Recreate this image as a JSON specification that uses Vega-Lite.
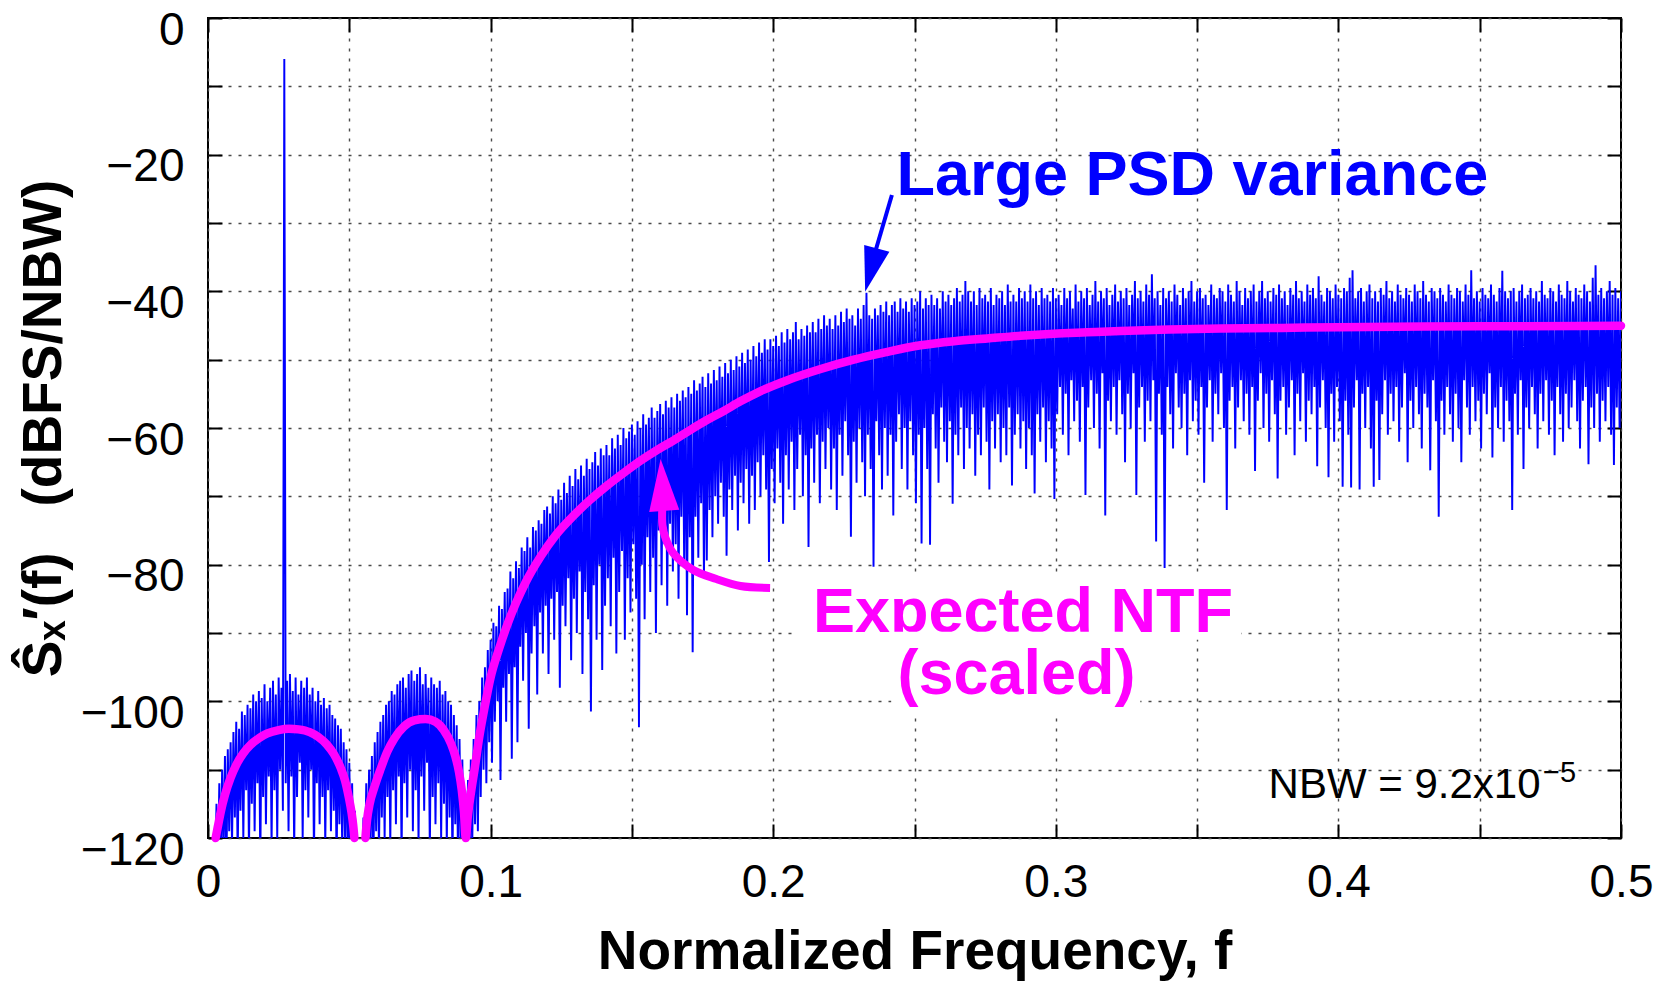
{
"$schema": "https://vega.github.io/schema/vega-lite/v6.json",
"width": 1413,
"height": 820,
"autosize": {"type": "none"},
"padding": {"left": 208, "top": 18, "right": 50, "bottom": 145},
"background": "white",
"config": {
"view": {"stroke": "black", "strokeWidth": 2},
"axis": {"domain": false, "tickColor": "black", "tickWidth": 2, "tickSize": -14, "labelFont": "Liberation Sans", "labelFontSize": 46, "labelColor": "black", "labelOverlap": false, "labelFlush": false, "titleFont": "Liberation Sans", "titleFontSize": 55, "titleFontWeight": "bold", "titleColor": "black", "gridColor": "#4a4a4a", "gridDash": [3, 7], "gridWidth": 1.4, "gridOpacity": 1}
},
"datasets": {
"psd": [
{"f":0.0005,"p":-131},{"f":0.001,"p":-124},{"f":0.0015,"p":-129},{"f":0.002,"p":-121},{"f":0.0025,"p":-127},{"f":0.003,"p":-115},{"f":0.0035,"p":-126},{"f":0.004,"p":-112},{"f":0.0045,"p":-124},{"f":0.005,"p":-110},
{"f":0.0055,"p":-122},{"f":0.006,"p":-108},{"f":0.0065,"p":-125},{"f":0.007,"p":-107},{"f":0.0075,"p":-119},{"f":0.008,"p":-106},{"f":0.0085,"p":-121},{"f":0.009,"p":-104.5},{"f":0.0095,"p":-117},{"f":0.01,"p":-103},
{"f":0.0105,"p":-123},{"f":0.011,"p":-104},{"f":0.0115,"p":-116},{"f":0.012,"p":-101.5},{"f":0.0125,"p":-120},{"f":0.013,"p":-102},{"f":0.0135,"p":-113},{"f":0.014,"p":-100.5},{"f":0.0145,"p":-122},{"f":0.015,"p":-101},
{"f":0.0155,"p":-115},{"f":0.016,"p":-99},{"f":0.0165,"p":-119},{"f":0.017,"p":-100},{"f":0.0175,"p":-112},{"f":0.018,"p":-98.5},{"f":0.0185,"p":-124},{"f":0.019,"p":-99.5},{"f":0.0195,"p":-114},{"f":0.02,"p":-97.5},
{"f":0.0205,"p":-118},{"f":0.021,"p":-100},{"f":0.0215,"p":-111},{"f":0.022,"p":-98},{"f":0.0225,"p":-121},{"f":0.023,"p":-97},{"f":0.0235,"p":-113},{"f":0.024,"p":-99},{"f":0.0245,"p":-120},{"f":0.025,"p":-96.5},
{"f":0.0255,"p":-110},{"f":0.026,"p":-98},{"f":0.0265,"p":-116},{"f":0.027,"p":-6},{"f":0.0275,"p":-112},{"f":0.028,"p":-97},{"f":0.0285,"p":-119},{"f":0.029,"p":-96},{"f":0.0295,"p":-111},{"f":0.03,"p":-98.5},
{"f":0.0305,"p":-122},{"f":0.031,"p":-96.5},{"f":0.0315,"p":-114},{"f":0.032,"p":-99},{"f":0.0325,"p":-109},{"f":0.033,"p":-97},{"f":0.0335,"p":-120},{"f":0.034,"p":-98},{"f":0.0345,"p":-113},{"f":0.035,"p":-96.5},
{"f":0.0355,"p":-117},{"f":0.036,"p":-99},{"f":0.0365,"p":-110},{"f":0.037,"p":-98},{"f":0.0375,"p":-123},{"f":0.038,"p":-100},{"f":0.0385,"p":-112},{"f":0.039,"p":-98.5},{"f":0.0395,"p":-118},{"f":0.04,"p":-100.5},
{"f":0.0405,"p":-114},{"f":0.041,"p":-99.5},{"f":0.0415,"p":-121},{"f":0.042,"p":-101},{"f":0.0425,"p":-113},{"f":0.043,"p":-100.5},{"f":0.0435,"p":-119},{"f":0.044,"p":-102},{"f":0.0445,"p":-116},{"f":0.045,"p":-102.5},
{"f":0.0455,"p":-124},{"f":0.046,"p":-103.5},{"f":0.0465,"p":-118},{"f":0.047,"p":-104},{"f":0.0475,"p":-122},{"f":0.048,"p":-106},{"f":0.0485,"p":-120},{"f":0.049,"p":-107},{"f":0.0495,"p":-126},{"f":0.05,"p":-109},
{"f":0.0505,"p":-123},{"f":0.051,"p":-112},{"f":0.0515,"p":-127},{"f":0.052,"p":-116},{"f":0.0525,"p":-129},{"f":0.053,"p":-121},{"f":0.0535,"p":-132},{"f":0.054,"p":-123},{"f":0.0545,"p":-128},{"f":0.055,"p":-117},
{"f":0.0555,"p":-126},{"f":0.056,"p":-112},{"f":0.0565,"p":-124},{"f":0.057,"p":-110},{"f":0.0575,"p":-121},{"f":0.058,"p":-108},{"f":0.0585,"p":-125},{"f":0.059,"p":-106},{"f":0.0595,"p":-119},{"f":0.06,"p":-104.5},
{"f":0.0605,"p":-122},{"f":0.061,"p":-103},{"f":0.0615,"p":-117},{"f":0.062,"p":-102},{"f":0.0625,"p":-120},{"f":0.063,"p":-100.5},{"f":0.0635,"p":-114},{"f":0.064,"p":-100},{"f":0.0645,"p":-121},{"f":0.065,"p":-98.5},
{"f":0.0655,"p":-113},{"f":0.066,"p":-99},{"f":0.0665,"p":-118},{"f":0.067,"p":-97.5},{"f":0.0675,"p":-111},{"f":0.068,"p":-97},{"f":0.0685,"p":-123},{"f":0.069,"p":-96.5},{"f":0.0695,"p":-112},{"f":0.07,"p":-98},
{"f":0.0705,"p":-117},{"f":0.071,"p":-96},{"f":0.0715,"p":-110},{"f":0.072,"p":-95.5},{"f":0.0725,"p":-119},{"f":0.073,"p":-97},{"f":0.0735,"p":-113},{"f":0.074,"p":-96},{"f":0.0745,"p":-121},{"f":0.075,"p":-95},
{"f":0.0755,"p":-111},{"f":0.076,"p":-97.5},{"f":0.0765,"p":-116},{"f":0.077,"p":-96},{"f":0.0775,"p":-109},{"f":0.078,"p":-98},{"f":0.0785,"p":-122},{"f":0.079,"p":-96.5},{"f":0.0795,"p":-114},{"f":0.08,"p":-97.5},
{"f":0.0805,"p":-118},{"f":0.081,"p":-98},{"f":0.0815,"p":-112},{"f":0.082,"p":-97},{"f":0.0825,"p":-120},{"f":0.083,"p":-99},{"f":0.0835,"p":-115},{"f":0.084,"p":-98.5},{"f":0.0845,"p":-121},{"f":0.085,"p":-100},
{"f":0.0855,"p":-117},{"f":0.086,"p":-100.5},{"f":0.0865,"p":-124},{"f":0.087,"p":-102},{"f":0.0875,"p":-118},{"f":0.088,"p":-103.5},{"f":0.0885,"p":-125},{"f":0.089,"p":-105.5},{"f":0.0895,"p":-121},{"f":0.09,"p":-108.5},
{"f":0.0905,"p":-127},{"f":0.091,"p":-113},{"f":0.0915,"p":-124},{"f":0.092,"p":-111.5},{"f":0.0925,"p":-126},{"f":0.093,"p":-108.5},{"f":0.0935,"p":-121},{"f":0.094,"p":-105.5},{"f":0.0945,"p":-118},{"f":0.095,"p":-102},
{"f":0.0955,"p":-119},{"f":0.096,"p":-100},{"f":0.0965,"p":-114},{"f":0.097,"p":-96.5},{"f":0.0975,"p":-110},{"f":0.098,"p":-95},{"f":0.0985,"p":-112},{"f":0.099,"p":-92.5},{"f":0.0995,"p":-106},{"f":0.1,"p":-91},
{"f":0.1005,"p":-109},{"f":0.101,"p":-88.5},{"f":0.1015,"p":-103},{"f":0.102,"p":-89},{"f":0.1025,"p":-100},{"f":0.103,"p":-86},{"f":0.1035,"p":-111.5},{"f":0.104,"p":-86.5},{"f":0.1045,"p":-98},{"f":0.105,"p":-84},
{"f":0.1055,"p":-103},{"f":0.106,"p":-83.5},{"f":0.1065,"p":-96},{"f":0.107,"p":-81},{"f":0.1075,"p":-108.4},{"f":0.108,"p":-82},{"f":0.1085,"p":-95},{"f":0.109,"p":-79.5},{"f":0.1095,"p":-106},{"f":0.11,"p":-80.5},
{"f":0.1105,"p":-92},{"f":0.111,"p":-77.5},{"f":0.1115,"p":-97},{"f":0.112,"p":-78},{"f":0.1125,"p":-90},{"f":0.113,"p":-76},{"f":0.1135,"p":-104},{"f":0.114,"p":-77.5},{"f":0.1145,"p":-93},{"f":0.115,"p":-74.5},
{"f":0.1155,"p":-89},{"f":0.116,"p":-75},{"f":0.1165,"p":-99},{"f":0.117,"p":-73.5},{"f":0.1175,"p":-87},{"f":0.118,"p":-74},{"f":0.1185,"p":-93},{"f":0.119,"p":-72},{"f":0.1195,"p":-86},{"f":0.12,"p":-71.5},
{"f":0.1205,"p":-96},{"f":0.121,"p":-72.5},{"f":0.1215,"p":-85},{"f":0.122,"p":-70},{"f":0.1225,"p":-91},{"f":0.123,"p":-71},{"f":0.1235,"p":-84},{"f":0.124,"p":-69},{"f":0.1245,"p":-98},{"f":0.125,"p":-70.5},
{"f":0.1255,"p":-86},{"f":0.126,"p":-68},{"f":0.1265,"p":-89},{"f":0.127,"p":-69.5},{"f":0.1275,"p":-82},{"f":0.128,"p":-67},{"f":0.1285,"p":-94},{"f":0.129,"p":-68.5},{"f":0.1295,"p":-85},{"f":0.13,"p":-66},
{"f":0.1305,"p":-90},{"f":0.131,"p":-67.5},{"f":0.1315,"p":-81},{"f":0.132,"p":-65.5},{"f":0.1325,"p":-96},{"f":0.133,"p":-67},{"f":0.1335,"p":-84},{"f":0.134,"p":-64.5},{"f":0.1345,"p":-88},{"f":0.135,"p":-66},
{"f":0.1355,"p":-101.5},{"f":0.136,"p":-65},{"f":0.1365,"p":-83},{"f":0.137,"p":-63.5},{"f":0.1375,"p":-91},{"f":0.138,"p":-65.5},{"f":0.1385,"p":-80},{"f":0.139,"p":-63},{"f":0.1395,"p":-95.4},{"f":0.14,"p":-64},
{"f":0.1405,"p":-86},{"f":0.141,"p":-62.5},{"f":0.1415,"p":-82},{"f":0.142,"p":-64},{"f":0.1425,"p":-89},{"f":0.143,"p":-61.5},{"f":0.1435,"p":-79},{"f":0.144,"p":-63},{"f":0.1445,"p":-93},{"f":0.145,"p":-61},
{"f":0.1455,"p":-84},{"f":0.146,"p":-62.5},{"f":0.1465,"p":-78},{"f":0.147,"p":-60},{"f":0.1475,"p":-91},{"f":0.148,"p":-61.5},{"f":0.1485,"p":-82},{"f":0.149,"p":-60.5},{"f":0.1495,"p":-87},{"f":0.15,"p":-59.5},
{"f":0.1505,"p":-77},{"f":0.151,"p":-61},{"f":0.1515,"p":-85},{"f":0.152,"p":-59},{"f":0.1525,"p":-103.8},{"f":0.153,"p":-60},{"f":0.1535,"p":-80},{"f":0.154,"p":-58},{"f":0.1545,"p":-88},{"f":0.155,"p":-59.5},
{"f":0.1555,"p":-76},{"f":0.156,"p":-58.5},{"f":0.1565,"p":-84},{"f":0.157,"p":-57},{"f":0.1575,"p":-79},{"f":0.158,"p":-58.5},{"f":0.1585,"p":-90},{"f":0.159,"p":-57.5},{"f":0.1595,"p":-75},{"f":0.16,"p":-56.5},
{"f":0.1605,"p":-83},{"f":0.161,"p":-58},{"f":0.1615,"p":-77},{"f":0.162,"p":-56},{"f":0.1625,"p":-86},{"f":0.163,"p":-57},{"f":0.1635,"p":-74},{"f":0.164,"p":-55.5},{"f":0.1645,"p":-81},{"f":0.165,"p":-57},
{"f":0.1655,"p":-77},{"f":0.166,"p":-55},{"f":0.1665,"p":-85},{"f":0.167,"p":-56},{"f":0.1675,"p":-73},{"f":0.168,"p":-54.5},{"f":0.1685,"p":-80},{"f":0.169,"p":-55.5},{"f":0.1695,"p":-87.4},{"f":0.17,"p":-54},
{"f":0.1705,"p":-76},{"f":0.171,"p":-55},{"f":0.1715,"p":-92.8},{"f":0.172,"p":-53},{"f":0.1725,"p":-73},{"f":0.173,"p":-54.5},{"f":0.1735,"p":-79},{"f":0.174,"p":-53.5},{"f":0.1745,"p":-71},{"f":0.175,"p":-52.5},
{"f":0.1755,"p":-82},{"f":0.176,"p":-54},{"f":0.1765,"p":-79.4},{"f":0.177,"p":-52},{"f":0.1775,"p":-72},{"f":0.178,"p":-53.5},{"f":0.1785,"p":-76},{"f":0.179,"p":-51.5},{"f":0.1795,"p":-70},{"f":0.18,"p":-53},
{"f":0.1805,"p":-74},{"f":0.181,"p":-51},{"f":0.1815,"p":-68},{"f":0.182,"p":-52.5},{"f":0.1825,"p":-73},{"f":0.183,"p":-50.5},{"f":0.1835,"p":-78.7},{"f":0.184,"p":-52},{"f":0.1845,"p":-69},{"f":0.185,"p":-50},
{"f":0.1855,"p":-72},{"f":0.186,"p":-51.5},{"f":0.1865,"p":-67},{"f":0.187,"p":-49.5},{"f":0.1875,"p":-75},{"f":0.188,"p":-51},{"f":0.1885,"p":-68},{"f":0.189,"p":-49},{"f":0.1895,"p":-71},{"f":0.19,"p":-50.5},
{"f":0.1905,"p":-66},{"f":0.191,"p":-48.5},{"f":0.1915,"p":-74},{"f":0.192,"p":-50},{"f":0.1925,"p":-67},{"f":0.193,"p":-48},{"f":0.1935,"p":-72},{"f":0.194,"p":-49.5},{"f":0.1945,"p":-65},{"f":0.195,"p":-47.5},
{"f":0.1955,"p":-70},{"f":0.196,"p":-49},{"f":0.1965,"p":-64},{"f":0.197,"p":-47},{"f":0.1975,"p":-69},{"f":0.198,"p":-48.5},{"f":0.1985,"p":-79.6},{"f":0.199,"p":-47},{"f":0.1995,"p":-66},{"f":0.2,"p":-48},
{"f":0.2005,"p":-71},{"f":0.201,"p":-46.5},{"f":0.2015,"p":-63},{"f":0.202,"p":-48},{"f":0.2025,"p":-68},{"f":0.203,"p":-46},{"f":0.2035,"p":-74},{"f":0.204,"p":-47.5},{"f":0.2045,"p":-64},{"f":0.205,"p":-45.5},
{"f":0.2055,"p":-69},{"f":0.206,"p":-47},{"f":0.2065,"p":-62},{"f":0.207,"p":-46},{"f":0.2075,"p":-72},{"f":0.208,"p":-44.5},{"f":0.2085,"p":-66},{"f":0.209,"p":-47},{"f":0.2095,"p":-61},{"f":0.21,"p":-45.5},
{"f":0.2105,"p":-70},{"f":0.211,"p":-46.5},{"f":0.2115,"p":-64},{"f":0.212,"p":-45},{"f":0.2125,"p":-77.4},{"f":0.213,"p":-46},{"f":0.2135,"p":-63},{"f":0.214,"p":-44.5},{"f":0.2145,"p":-68},{"f":0.215,"p":-46},
{"f":0.2155,"p":-61},{"f":0.216,"p":-44},{"f":0.2165,"p":-71},{"f":0.217,"p":-45.5},{"f":0.2175,"p":-62},{"f":0.218,"p":-43.5},{"f":0.2185,"p":-66},{"f":0.219,"p":-45},{"f":0.2195,"p":-60},{"f":0.22,"p":-44},
{"f":0.2205,"p":-69},{"f":0.221,"p":-45.5},{"f":0.2215,"p":-63},{"f":0.222,"p":-43.5},{"f":0.2225,"p":-72},{"f":0.223,"p":-45},{"f":0.2235,"p":-61},{"f":0.224,"p":-43},{"f":0.2245,"p":-67},{"f":0.225,"p":-44.5},
{"f":0.2255,"p":-59},{"f":0.226,"p":-42.5},{"f":0.2265,"p":-64},{"f":0.227,"p":-44},{"f":0.2275,"p":-75.9},{"f":0.228,"p":-43.5},{"f":0.2285,"p":-62},{"f":0.229,"p":-45},{"f":0.2295,"p":-68},{"f":0.23,"p":-42.5},
{"f":0.2305,"p":-60},{"f":0.231,"p":-44},{"f":0.2315,"p":-65},{"f":0.232,"p":-42},{"f":0.2325,"p":-70},{"f":0.233,"p":-40.2},{"f":0.2335,"p":-61},{"f":0.234,"p":-43.5},{"f":0.2345,"p":-66},{"f":0.235,"p":-44},
{"f":0.2355,"p":-80.3},{"f":0.236,"p":-42.5},{"f":0.2365,"p":-59},{"f":0.237,"p":-43.5},{"f":0.2375,"p":-64},{"f":0.238,"p":-42},{"f":0.2385,"p":-69},{"f":0.239,"p":-43},{"f":0.2395,"p":-60},{"f":0.24,"p":-41.5},
{"f":0.2405,"p":-67},{"f":0.241,"p":-43.5},{"f":0.2415,"p":-61},{"f":0.242,"p":-42},{"f":0.2425,"p":-72.8},{"f":0.243,"p":-41.5},{"f":0.2435,"p":-62},{"f":0.244,"p":-43},{"f":0.2445,"p":-58},{"f":0.245,"p":-41},
{"f":0.2455,"p":-66},{"f":0.246,"p":-42.5},{"f":0.2465,"p":-60},{"f":0.247,"p":-41.5},{"f":0.2475,"p":-69},{"f":0.248,"p":-43},{"f":0.2485,"p":-59},{"f":0.249,"p":-41},{"f":0.2495,"p":-64},{"f":0.25,"p":-42},
{"f":0.2505,"p":-71},{"f":0.251,"p":-41.5},{"f":0.2515,"p":-61},{"f":0.252,"p":-40},{"f":0.2525,"p":-76.9},{"f":0.253,"p":-42.5},{"f":0.2535,"p":-60},{"f":0.254,"p":-41},{"f":0.2545,"p":-66},{"f":0.255,"p":-42},
{"f":0.2555,"p":-77.1},{"f":0.256,"p":-40.5},{"f":0.2565,"p":-58},{"f":0.257,"p":-42},{"f":0.2575,"p":-63},{"f":0.258,"p":-41},{"f":0.2585,"p":-68},{"f":0.259,"p":-42.5},{"f":0.2595,"p":-57},{"f":0.26,"p":-40},
{"f":0.2605,"p":-62},{"f":0.261,"p":-41.5},{"f":0.2615,"p":-65},{"f":0.262,"p":-40.5},{"f":0.2625,"p":-59},{"f":0.263,"p":-42},{"f":0.2635,"p":-71.1},{"f":0.264,"p":-41},{"f":0.2645,"p":-61},{"f":0.265,"p":-39.5},
{"f":0.2655,"p":-64},{"f":0.266,"p":-41.5},{"f":0.2665,"p":-57},{"f":0.267,"p":-40.5},{"f":0.2675,"p":-66},{"f":0.268,"p":-38.5},{"f":0.2685,"p":-60},{"f":0.269,"p":-40},{"f":0.2695,"p":-63},{"f":0.27,"p":-41.5},
{"f":0.2705,"p":-58},{"f":0.271,"p":-40},{"f":0.2715,"p":-67},{"f":0.272,"p":-42},{"f":0.2725,"p":-61},{"f":0.273,"p":-39.5},{"f":0.2735,"p":-64},{"f":0.274,"p":-41},{"f":0.2745,"p":-57},{"f":0.275,"p":-40.5},
{"f":0.2755,"p":-62},{"f":0.276,"p":-41.5},{"f":0.2765,"p":-69},{"f":0.277,"p":-39.5},{"f":0.2775,"p":-59},{"f":0.278,"p":-42},{"f":0.2785,"p":-63},{"f":0.279,"p":-40.5},{"f":0.2795,"p":-58},{"f":0.28,"p":-41},
{"f":0.2805,"p":-65},{"f":0.281,"p":-40},{"f":0.2815,"p":-60},{"f":0.282,"p":-42},{"f":0.2825,"p":-64},{"f":0.283,"p":-39},{"f":0.2835,"p":-57},{"f":0.284,"p":-41.5},{"f":0.2845,"p":-68.4},{"f":0.285,"p":-40.5},
{"f":0.2855,"p":-61},{"f":0.286,"p":-41.5},{"f":0.2865,"p":-58},{"f":0.287,"p":-39.5},{"f":0.2875,"p":-63},{"f":0.288,"p":-41},{"f":0.2885,"p":-59},{"f":0.289,"p":-40},{"f":0.2895,"p":-66},{"f":0.29,"p":-41.5},
{"f":0.2905,"p":-60},{"f":0.291,"p":-39},{"f":0.2915,"p":-64},{"f":0.292,"p":-41},{"f":0.2925,"p":-69.6},{"f":0.293,"p":-40},{"f":0.2935,"p":-58},{"f":0.294,"p":-42},{"f":0.2945,"p":-62},{"f":0.295,"p":-39.5},
{"f":0.2955,"p":-57},{"f":0.296,"p":-41},{"f":0.2965,"p":-65},{"f":0.297,"p":-40.5},{"f":0.2975,"p":-59},{"f":0.298,"p":-41.5},{"f":0.2985,"p":-63},{"f":0.299,"p":-39.5},{"f":0.2995,"p":-70.4},{"f":0.3,"p":-41},
{"f":0.3005,"p":-58},{"f":0.301,"p":-40.5},{"f":0.3015,"p":-54},{"f":0.302,"p":-42},{"f":0.3025,"p":-61},{"f":0.303,"p":-39.5},{"f":0.3035,"p":-55},{"f":0.304,"p":-41},{"f":0.3045,"p":-64},{"f":0.305,"p":-40},
{"f":0.3055,"p":-53},{"f":0.306,"p":-42.5},{"f":0.3065,"p":-59},{"f":0.307,"p":-39},{"f":0.3075,"p":-56},{"f":0.308,"p":-41.5},{"f":0.3085,"p":-62},{"f":0.309,"p":-40},{"f":0.3095,"p":-54},{"f":0.31,"p":-41},
{"f":0.3105,"p":-69.8},{"f":0.311,"p":-39.5},{"f":0.3115,"p":-57},{"f":0.312,"p":-42},{"f":0.3125,"p":-53},{"f":0.313,"p":-40.5},{"f":0.3135,"p":-60},{"f":0.314,"p":-38.5},{"f":0.3145,"p":-55},{"f":0.315,"p":-41.5},
{"f":0.3155,"p":-63},{"f":0.316,"p":-40},{"f":0.3165,"p":-52},{"f":0.317,"p":-41},{"f":0.3175,"p":-72.8},{"f":0.318,"p":-39.5},{"f":0.3185,"p":-56},{"f":0.319,"p":-42},{"f":0.3195,"p":-59},{"f":0.32,"p":-40.5},
{"f":0.3205,"p":-54},{"f":0.321,"p":-39},{"f":0.3215,"p":-61},{"f":0.322,"p":-41.5},{"f":0.3225,"p":-53},{"f":0.323,"p":-40},{"f":0.3235,"p":-58},{"f":0.324,"p":-41},{"f":0.3245,"p":-65},{"f":0.325,"p":-39.5},
{"f":0.3255,"p":-55},{"f":0.326,"p":-42},{"f":0.3265,"p":-60},{"f":0.327,"p":-40.5},{"f":0.3275,"p":-52},{"f":0.328,"p":-38.5},{"f":0.3285,"p":-69.8},{"f":0.329,"p":-41},{"f":0.3295,"p":-57},{"f":0.33,"p":-40},
{"f":0.3305,"p":-54},{"f":0.331,"p":-41.5},{"f":0.3315,"p":-62},{"f":0.332,"p":-39},{"f":0.3325,"p":-56},{"f":0.333,"p":-40.5},{"f":0.3335,"p":-59},{"f":0.334,"p":-37.5},{"f":0.3345,"p":-53},{"f":0.335,"p":-41},
{"f":0.3355,"p":-76.6},{"f":0.336,"p":-40},{"f":0.3365,"p":-55},{"f":0.337,"p":-42},{"f":0.3375,"p":-61},{"f":0.338,"p":-39.5},{"f":0.3385,"p":-80.5},{"f":0.339,"p":-41},{"f":0.3395,"p":-54},{"f":0.34,"p":-40},
{"f":0.3405,"p":-58},{"f":0.341,"p":-41.5},{"f":0.3415,"p":-63},{"f":0.342,"p":-39},{"f":0.3425,"p":-52},{"f":0.343,"p":-40.5},{"f":0.3435,"p":-57},{"f":0.344,"p":-42},{"f":0.3445,"p":-60},{"f":0.345,"p":-39.5},
{"f":0.3455,"p":-55},{"f":0.346,"p":-41},{"f":0.3465,"p":-64},{"f":0.347,"p":-40},{"f":0.3475,"p":-53},{"f":0.348,"p":-38.5},{"f":0.3485,"p":-59},{"f":0.349,"p":-41.5},{"f":0.3495,"p":-56},{"f":0.35,"p":-40},
{"f":0.3505,"p":-61},{"f":0.351,"p":-39.5},{"f":0.3515,"p":-54},{"f":0.352,"p":-41},{"f":0.3525,"p":-68},{"f":0.353,"p":-40.5},{"f":0.3535,"p":-57},{"f":0.354,"p":-42},{"f":0.3545,"p":-53},{"f":0.355,"p":-39},
{"f":0.3555,"p":-62},{"f":0.356,"p":-40.5},{"f":0.3565,"p":-55},{"f":0.357,"p":-41},{"f":0.3575,"p":-58},{"f":0.358,"p":-39.5},{"f":0.3585,"p":-52},{"f":0.359,"p":-40},{"f":0.3595,"p":-60},{"f":0.36,"p":-41.5},
{"f":0.3605,"p":-72},{"f":0.361,"p":-39},{"f":0.3615,"p":-56},{"f":0.362,"p":-40.5},{"f":0.3625,"p":-54},{"f":0.363,"p":-41.5},{"f":0.3635,"p":-63},{"f":0.364,"p":-38.5},{"f":0.3645,"p":-57},{"f":0.365,"p":-40},
{"f":0.3655,"p":-53},{"f":0.366,"p":-42},{"f":0.3665,"p":-59},{"f":0.367,"p":-39.5},{"f":0.3675,"p":-55},{"f":0.368,"p":-41},{"f":0.3685,"p":-61},{"f":0.369,"p":-40},{"f":0.3695,"p":-54},{"f":0.37,"p":-39},
{"f":0.3705,"p":-66.3},{"f":0.371,"p":-41.5},{"f":0.3715,"p":-56},{"f":0.372,"p":-40},{"f":0.3725,"p":-52},{"f":0.373,"p":-38.5},{"f":0.3735,"p":-60},{"f":0.374,"p":-41},{"f":0.3745,"p":-55},{"f":0.375,"p":-40},
{"f":0.3755,"p":-62},{"f":0.376,"p":-41.5},{"f":0.3765,"p":-53},{"f":0.377,"p":-39.5},{"f":0.3775,"p":-58},{"f":0.378,"p":-40.5},{"f":0.3785,"p":-67.4},{"f":0.379,"p":-39},{"f":0.3795,"p":-56},{"f":0.38,"p":-41},
{"f":0.3805,"p":-54},{"f":0.381,"p":-40},{"f":0.3815,"p":-61},{"f":0.382,"p":-42},{"f":0.3825,"p":-57},{"f":0.383,"p":-39.5},{"f":0.3835,"p":-53},{"f":0.384,"p":-40.5},{"f":0.3845,"p":-64},{"f":0.385,"p":-38.5},
{"f":0.3855,"p":-55},{"f":0.386,"p":-41},{"f":0.3865,"p":-59},{"f":0.387,"p":-40},{"f":0.3875,"p":-52},{"f":0.388,"p":-41.5},{"f":0.3885,"p":-62},{"f":0.389,"p":-39},{"f":0.3895,"p":-56},{"f":0.39,"p":-40.5},
{"f":0.3905,"p":-58},{"f":0.391,"p":-39.5},{"f":0.3915,"p":-54},{"f":0.392,"p":-41},{"f":0.3925,"p":-65.6},{"f":0.393,"p":-37.8},{"f":0.3935,"p":-57},{"f":0.394,"p":-40.5},{"f":0.3945,"p":-53},{"f":0.395,"p":-41.5},
{"f":0.3955,"p":-60},{"f":0.396,"p":-39.5},{"f":0.3965,"p":-67.2},{"f":0.397,"p":-40},{"f":0.3975,"p":-55},{"f":0.398,"p":-41},{"f":0.3985,"p":-62},{"f":0.399,"p":-39},{"f":0.3995,"p":-54},{"f":0.4,"p":-40.5},
{"f":0.4005,"p":-59},{"f":0.401,"p":-41},{"f":0.4015,"p":-68.6},{"f":0.402,"p":-39.5},{"f":0.4025,"p":-56},{"f":0.403,"p":-40},{"f":0.4035,"p":-61},{"f":0.404,"p":-38},{"f":0.4045,"p":-68.7},{"f":0.405,"p":-36.9},
{"f":0.4055,"p":-57},{"f":0.406,"p":-41},{"f":0.4065,"p":-53},{"f":0.407,"p":-40},{"f":0.4075,"p":-69},{"f":0.408,"p":-39.5},{"f":0.4085,"p":-55},{"f":0.409,"p":-41.5},{"f":0.4095,"p":-60},{"f":0.41,"p":-40},
{"f":0.4105,"p":-54},{"f":0.411,"p":-39},{"f":0.4115,"p":-63},{"f":0.412,"p":-41},{"f":0.4125,"p":-68.6},{"f":0.413,"p":-40},{"f":0.4135,"p":-56},{"f":0.414,"p":-41.5},{"f":0.4145,"p":-67.6},{"f":0.415,"p":-39.5},
{"f":0.4155,"p":-58},{"f":0.416,"p":-40.5},{"f":0.4165,"p":-53},{"f":0.417,"p":-38.5},{"f":0.4175,"p":-61},{"f":0.418,"p":-41},{"f":0.4185,"p":-55},{"f":0.419,"p":-40},{"f":0.4195,"p":-59},{"f":0.42,"p":-41.5},
{"f":0.4205,"p":-54},{"f":0.421,"p":-39},{"f":0.4215,"p":-62},{"f":0.422,"p":-40.5},{"f":0.4225,"p":-57},{"f":0.423,"p":-41},{"f":0.4235,"p":-52},{"f":0.424,"p":-39.5},{"f":0.4245,"p":-65},{"f":0.425,"p":-40.5},
{"f":0.4255,"p":-56},{"f":0.426,"p":-41.5},{"f":0.4265,"p":-60},{"f":0.427,"p":-39},{"f":0.4275,"p":-54},{"f":0.428,"p":-40},{"f":0.4285,"p":-58},{"f":0.429,"p":-41},{"f":0.4295,"p":-63},{"f":0.43,"p":-38.5},
{"f":0.4305,"p":-55},{"f":0.431,"p":-40.5},{"f":0.4315,"p":-57},{"f":0.432,"p":-41.5},{"f":0.4325,"p":-66.2},{"f":0.433,"p":-39.5},{"f":0.4335,"p":-53},{"f":0.434,"p":-40},{"f":0.4345,"p":-59},{"f":0.435,"p":-41},
{"f":0.4355,"p":-73},{"f":0.436,"p":-39.5},{"f":0.4365,"p":-56},{"f":0.437,"p":-40.5},{"f":0.4375,"p":-61},{"f":0.438,"p":-41.5},{"f":0.4385,"p":-54},{"f":0.439,"p":-39},{"f":0.4395,"p":-58},{"f":0.44,"p":-40.5},
{"f":0.4405,"p":-62},{"f":0.441,"p":-41},{"f":0.4415,"p":-55},{"f":0.442,"p":-39.5},{"f":0.4425,"p":-60},{"f":0.443,"p":-40},{"f":0.4435,"p":-65},{"f":0.444,"p":-41.5},{"f":0.4445,"p":-53},{"f":0.445,"p":-39},
{"f":0.4455,"p":-57},{"f":0.446,"p":-40.5},{"f":0.4465,"p":-61},{"f":0.447,"p":-36.9},{"f":0.4475,"p":-54},{"f":0.448,"p":-41},{"f":0.4485,"p":-59},{"f":0.449,"p":-40},{"f":0.4495,"p":-56},{"f":0.45,"p":-41.5},
{"f":0.4505,"p":-63},{"f":0.451,"p":-39.5},{"f":0.4515,"p":-55},{"f":0.452,"p":-40.5},{"f":0.4525,"p":-58},{"f":0.453,"p":-41},{"f":0.4535,"p":-52},{"f":0.454,"p":-39},{"f":0.4545,"p":-64.3},{"f":0.455,"p":-40.5},
{"f":0.4555,"p":-57},{"f":0.456,"p":-41.5},{"f":0.4565,"p":-60},{"f":0.457,"p":-39.5},{"f":0.4575,"p":-54},{"f":0.458,"p":-37},{"f":0.4585,"p":-62},{"f":0.459,"p":-40},{"f":0.4595,"p":-56},{"f":0.46,"p":-41},
{"f":0.4605,"p":-59},{"f":0.461,"p":-40},{"f":0.4615,"p":-72},{"f":0.462,"p":-39.5},{"f":0.4625,"p":-55},{"f":0.463,"p":-41.5},{"f":0.4635,"p":-61},{"f":0.464,"p":-40},{"f":0.4645,"p":-53},{"f":0.465,"p":-39},
{"f":0.4655,"p":-66},{"f":0.466,"p":-41},{"f":0.4665,"p":-57},{"f":0.467,"p":-40.5},{"f":0.4675,"p":-60},{"f":0.468,"p":-39.5},{"f":0.4685,"p":-54},{"f":0.469,"p":-41},{"f":0.4695,"p":-58},{"f":0.47,"p":-40},
{"f":0.4705,"p":-63},{"f":0.471,"p":-41.5},{"f":0.4715,"p":-55},{"f":0.472,"p":-38.5},{"f":0.4725,"p":-59},{"f":0.473,"p":-40.5},{"f":0.4735,"p":-53},{"f":0.474,"p":-41},{"f":0.4745,"p":-61},{"f":0.475,"p":-39.5},
{"f":0.4755,"p":-56},{"f":0.476,"p":-40},{"f":0.4765,"p":-64},{"f":0.477,"p":-41.5},{"f":0.4775,"p":-54},{"f":0.478,"p":-39},{"f":0.4785,"p":-58},{"f":0.479,"p":-40.5},{"f":0.4795,"p":-62},{"f":0.48,"p":-41},
{"f":0.4805,"p":-55},{"f":0.481,"p":-38.5},{"f":0.4815,"p":-60},{"f":0.482,"p":-40},{"f":0.4825,"p":-57},{"f":0.483,"p":-41.5},{"f":0.4835,"p":-53},{"f":0.484,"p":-39.5},{"f":0.4845,"p":-59},{"f":0.485,"p":-40.5},
{"f":0.4855,"p":-63},{"f":0.486,"p":-41},{"f":0.4865,"p":-56},{"f":0.487,"p":-39},{"f":0.4875,"p":-54},{"f":0.488,"p":-40},{"f":0.4885,"p":-65.3},{"f":0.489,"p":-41.5},{"f":0.4895,"p":-57},{"f":0.49,"p":-38},
{"f":0.4905,"p":-60},{"f":0.491,"p":-36.2},{"f":0.4915,"p":-55},{"f":0.492,"p":-40.5},{"f":0.4925,"p":-62},{"f":0.493,"p":-39.5},{"f":0.4935,"p":-56},{"f":0.494,"p":-41},{"f":0.4945,"p":-59},{"f":0.495,"p":-40},
{"f":0.4955,"p":-54},{"f":0.496,"p":-38.5},{"f":0.4965,"p":-61},{"f":0.497,"p":-40.5},{"f":0.4975,"p":-65.4},{"f":0.498,"p":-39.5},{"f":0.4985,"p":-57},{"f":0.499,"p":-41},{"f":0.4995,"p":-60},{"f":0.5,"p":-40}
],
"ntf": [
{"f":0.0027,"p":-120,"s":1},{"f":0.0035,"p":-118.3,"s":1},{"f":0.0045,"p":-116.2,"s":1},{"f":0.006,"p":-113.7,"s":1},{"f":0.008,"p":-111.2,"s":1},{"f":0.01,"p":-109.3,"s":1},{"f":0.0125,"p":-107.6,"s":1},{"f":0.015,"p":-106.4,"s":1},{"f":0.018,"p":-105.4,"s":1},{"f":0.021,"p":-104.7,"s":1},{"f":0.025,"p":-104.2,"s":1},{"f":0.0286,"p":-104,"s":1},{"f":0.032,"p":-104.1,"s":1},{"f":0.036,"p":-104.5,"s":1},{"f":0.039,"p":-105.2,"s":1},{"f":0.042,"p":-106.3,"s":1},{"f":0.0445,"p":-107.7,"s":1},{"f":0.047,"p":-109.8,"s":1},{"f":0.0485,"p":-111.6,"s":1},{"f":0.0498,"p":-114,"s":1},{"f":0.0508,"p":-116.3,"s":1},{"f":0.0514,"p":-118.2,"s":1},{"f":0.0518,"p":-120,"s":1},
{"f":0.0557,"p":-120,"s":2},{"f":0.0563,"p":-117.3,"s":2},{"f":0.0572,"p":-115,"s":2},{"f":0.0587,"p":-112.8,"s":2},{"f":0.061,"p":-110,"s":2},{"f":0.0634,"p":-107.4,"s":2},{"f":0.066,"p":-105.4,"s":2},{"f":0.0693,"p":-103.7,"s":2},{"f":0.073,"p":-102.8,"s":2},{"f":0.077,"p":-102.6,"s":2},{"f":0.0805,"p":-103,"s":2},{"f":0.0834,"p":-104.2,"s":2},{"f":0.086,"p":-106.2,"s":2},{"f":0.0875,"p":-108,"s":2},{"f":0.0888,"p":-110.3,"s":2},{"f":0.0898,"p":-113,"s":2},{"f":0.0906,"p":-116.3,"s":2},{"f":0.0912,"p":-120,"s":2},{"f":0.0919,"p":-117,"s":2},{"f":0.093,"p":-113.5,"s":2},{"f":0.0945,"p":-109.5,"s":2},{"f":0.096,"p":-105.2,"s":2},{"f":0.0976,"p":-101.5,"s":2},{"f":0.1,"p":-96.5,"s":2},{"f":0.103,"p":-92.3,"s":2},{"f":0.1059,"p":-88.8,"s":2},{"f":0.109,"p":-85.6,"s":2},{"f":0.1125,"p":-82.5,"s":2},{"f":0.1177,"p":-78.8,"s":2},{"f":0.123,"p":-75.7,"s":2},{"f":0.1294,"p":-72.8,"s":2},{"f":0.135,"p":-70.6,"s":2},{"f":0.1413,"p":-68.4,"s":2},{"f":0.147,"p":-66.6,"s":2},{"f":0.153,"p":-64.8,"s":2},{"f":0.159,"p":-63.2,"s":2},{"f":0.1648,"p":-61.8,"s":2},{"f":0.1706,"p":-60.3,"s":2},{"f":0.1767,"p":-58.8,"s":2},{"f":0.1825,"p":-57.5,"s":2},{"f":0.1884,"p":-56.1,"s":2},{"f":0.195,"p":-54.7,"s":2},{"f":0.205,"p":-53,"s":2},{"f":0.2165,"p":-51.4,"s":2},{"f":0.2285,"p":-50,"s":2},{"f":0.24,"p":-48.9,"s":2},{"f":0.2521,"p":-47.9,"s":2},{"f":0.264,"p":-47.3,"s":2},{"f":0.2757,"p":-46.9,"s":2},{"f":0.2875,"p":-46.5,"s":2},{"f":0.2993,"p":-46.2,"s":2},{"f":0.311,"p":-46,"s":2},{"f":0.3229,"p":-45.8,"s":2},{"f":0.34,"p":-45.6,"s":2},{"f":0.3583,"p":-45.45,"s":2},{"f":0.38,"p":-45.35,"s":2},{"f":0.4,"p":-45.25,"s":2},{"f":0.43,"p":-45.15,"s":2},{"f":0.46,"p":-45.1,"s":2},{"f":0.5,"p":-45.05,"s":2}
]
},
"encoding": {
"x": {"field": "f", "type": "quantitative", "scale": {"domain": [0, 0.5], "nice": false, "zero": false}, "axis": null},
"y": {"field": "p", "type": "quantitative", "scale": {"domain": [-120, 0], "nice": false, "zero": false}, "axis": null}
},
"layer": [
{
"data": {"name": "psd"},
"mark": {"type": "line", "color": "#0000ff", "strokeWidth": 1.95, "clip": true},
"encoding": {
"x": {"field": "f", "type": "quantitative", "scale": {"domain": [0, 0.5], "nice": false, "zero": false},
"axis": {"orient": "bottom", "values": [0,0.05,0.1,0.15,0.2,0.25,0.3,0.35,0.4,0.45,0.5], "grid": true, "labelExpr": "abs(datum.value*10-round(datum.value*10))<0.001 ? format(datum.value,'~g') : ''", "labelPadding": 36, "title": "Normalized Frequency, f", "titlePadding": 20}},
"y": {"field": "p", "type": "quantitative", "scale": {"domain": [-120, 0], "nice": false, "zero": false},
"axis": {"orient": "left", "values": [-120,-110,-100,-90,-80,-70,-60,-50,-40,-30,-20,-10,0], "grid": true, "labelExpr": "datum.value % 20 == 0 ? format(datum.value,'d') : ''", "labelPadding": 38, "labelBaseline": "alphabetic", "labelOffset": 26, "title": "Ŝₓ′(f)\u00a0\u00a0\u00a0(dBFS/NBW)", "titleFontSize": 55, "titlePadding": 8}}
}
},
{
"data": {"name": "ntf"},
"mark": {"type": "line", "color": "#ff00ff", "strokeWidth": 8.5, "strokeCap": "round", "strokeJoin": "round", "interpolate": "monotone", "clip": false},
"encoding": {
"x": {"field": "f", "type": "quantitative", "scale": {"domain": [0, 0.5], "nice": false, "zero": false},
"axis": {"orient": "top", "values": [0,0.05,0.1,0.15,0.2,0.25,0.3,0.35,0.4,0.45,0.5], "grid": false, "labels": false, "title": null}},
"y": {"field": "p", "type": "quantitative", "scale": {"domain": [-120, 0], "nice": false, "zero": false},
"axis": {"orient": "right", "values": [-120,-110,-100,-90,-80,-70,-60,-50,-40,-30,-20,-10,0], "grid": false, "labels": false, "title": null}},
"detail": {"field": "s", "type": "nominal"}
}
},
{
"data": {"values": [{"f": 0.2078, "p": -81.5, "f2": 0.3656, "p2": -91}]},
"mark": {"type": "rect", "color": "white", "opacity": 1},
"encoding": {"x2": {"field": "f2"}, "y2": {"field": "p2"}}
},
{
"data": {"values": [{"f": 0.2884, "p": -89.8, "t": "Expected NTF"}]},
"mark": {"type": "text", "font": "Liberation Sans", "fontWeight": "bold", "fontSize": 63, "color": "#ff00ff", "align": "center", "baseline": "alphabetic"},
"encoding": {"text": {"field": "t"}}
},
{
"data": {"values": [{"f": 0.2418, "p": -89.82, "f2": 0.3299, "p2": -101.56}]},
"mark": {"type": "rect", "color": "white", "opacity": 1},
"encoding": {"x2": {"field": "f2"}, "y2": {"field": "p2"}}
},
{
"data": {"values": [{"f": 0.2861, "p": -98.9, "t": "(scaled)"}]},
"mark": {"type": "text", "font": "Liberation Sans", "fontWeight": "bold", "fontSize": 63, "color": "#ff00ff", "align": "center", "baseline": "alphabetic"},
"encoding": {"text": {"field": "t"}}
},
{
"data": {"values": [{"f": 0.1989, "p": -83.41, "o": 1}, {"f": 0.1884, "p": -83.12, "o": 2}, {"f": 0.1799, "p": -82.1, "o": 3}, {"f": 0.1717, "p": -80.78, "o": 4}, {"f": 0.1646, "p": -78.29, "o": 5}, {"f": 0.1619, "p": -76.1, "o": 6}, {"f": 0.1608, "p": -74.19, "o": 7}, {"f": 0.1608, "p": -71.27, "o": 8}]},
"mark": {"type": "line", "color": "#ff00ff", "strokeWidth": 8, "strokeCap": "butt", "interpolate": "catmull-rom"},
"encoding": {"order": {"field": "o", "type": "quantitative"}}
},
{
"data": {"values": [{"f": 0.1608, "p": -68.34}]},
"mark": {"type": "point", "shape": "M0,-1L-0.58,1L0.58,1Z", "size": 2704, "angle": -4, "filled": true, "color": "#ff00ff", "opacity": 1, "strokeWidth": 0}
},
{
"data": {"values": [{"f": 0.242, "p": -25.9, "f2": 0.2352, "p2": -35.5}]},
"mark": {"type": "rule", "color": "#0000ff", "strokeWidth": 4},
"encoding": {"x2": {"field": "f2"}, "y2": {"field": "p2"}}
},
{
"data": {"values": [{"f": 0.2346, "p": -36.88}]},
"mark": {"type": "point", "shape": "M0,1L-0.58,-1L0.58,-1Z", "size": 2025, "angle": 15, "filled": true, "color": "#0000ff", "opacity": 1, "strokeWidth": 0}
},
{
"data": {"values": [{"f": 0.2436, "p": -25.9, "t": "Large PSD variance"}]},
"mark": {"type": "text", "font": "Liberation Sans", "fontWeight": "bold", "fontSize": 63, "color": "#0000ff", "align": "left", "baseline": "alphabetic"},
"encoding": {"text": {"field": "t"}}
},
{
"data": {"values": [{"f": 0.3753, "p": -114.19, "t": "NBW = 9.2x10"}]},
"mark": {"type": "text", "font": "Liberation Sans", "fontSize": 42, "color": "black", "align": "left", "baseline": "alphabetic"},
"encoding": {"text": {"field": "t"}}
},
{
"data": {"values": [{"f": 0.4724, "p": -111.77, "t": "−5"}]},
"mark": {"type": "text", "font": "Liberation Sans", "fontSize": 29, "color": "black", "align": "left", "baseline": "alphabetic"},
"encoding": {"text": {"field": "t"}}
}
],
"resolve": {"axis": {"x": "independent", "y": "independent"}}
}
